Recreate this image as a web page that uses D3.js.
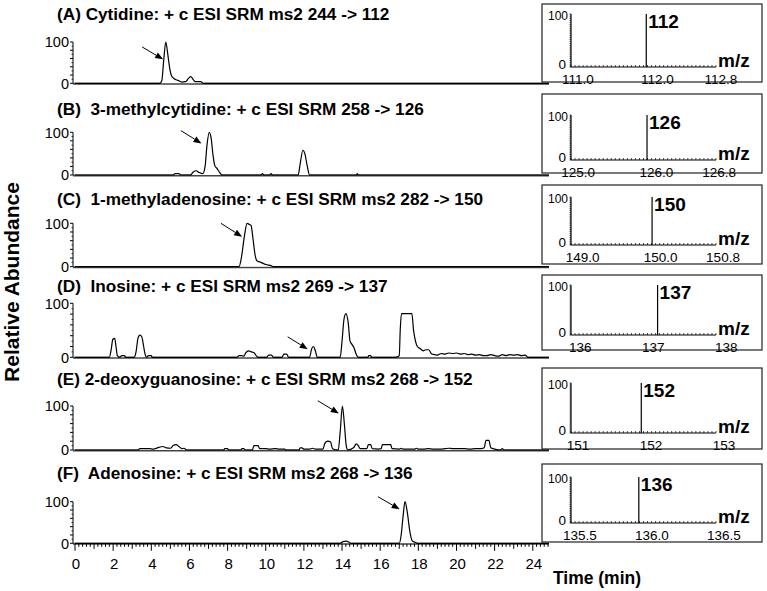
<!DOCTYPE html>
<html><head><meta charset="utf-8">
<script src="https://cdn.jsdelivr.net/npm/d3@7"></script>
<style>
html,body{margin:0;padding:0;background:#fff;}
svg{display:block;font-family:"Liberation Sans",Arial,sans-serif;}
</style></head>
<body>
<svg id="chart" width="767" height="591"></svg>
<script>
// ---------- data ----------
const panelTitles = [
  "(A) Cytidine: + c ESI SRM ms2 244 -> 112",
  "(B)  3-methylcytidine: + c ESI SRM 258 -> 126",
  "(C)  1-methyladenosine: + c ESI SRM ms2 282 -> 150",
  "(D)  Inosine: + c ESI SRM ms2 269 -> 137",
  "(E) 2-deoxyguanosine: + c ESI SRM ms2 268 -> 152",
  "(F)  Adenosine: + c ESI SRM ms2 268 -> 136"
];
const traceA = [[0,0],[4.45,0],[4.55,6],[4.65,55],[4.76,100],[4.86,72],[4.96,38],[5.06,18],[5.2,11],[5.4,7],[5.6,3],[5.8,4],[5.95,12],[6.07,16],[6.2,9],[6.3,4],[6.6,4],[6.7,0],[24.85,0]];
const traceB = [[0,0],[5.15,0],[5.25,3],[5.45,3],[5.55,0],[6.05,0],[6.2,7],[6.35,10],[6.5,6],[6.7,3],[6.82,20],[6.92,70],[7.04,100],[7.14,85],[7.24,45],[7.33,22],[7.45,15],[7.6,5],[7.7,0],[9.75,0],[9.83,3],[9.9,0],[10.2,0],[10.28,3],[10.35,0],[11.7,0],[11.8,25],[11.95,58],[12.05,50],[12.18,20],[12.3,0],[14.75,0],[14.8,3],[14.85,0],[24.85,0]];
const traceC = [[0,0],[8.6,0],[8.72,20],[8.88,70],[9.02,100],[9.12,98],[9.23,95],[9.33,65],[9.45,25],[9.55,13],[9.75,10],[10.0,5],[10.3,2],[10.4,0],[24.85,0]];
const traceD = [[0,0],[1.8,0],[1.9,15],[1.98,33],[2.08,35],[2.15,20],[2.22,3],[2.35,0],[2.45,3],[2.6,3],[2.65,0],[3.1,0],[3.2,10],[3.3,35],[3.4,41],[3.5,38],[3.6,20],[3.68,5],[3.75,0],[3.85,3],[4.0,3],[4.05,0],[8.5,0],[8.6,3],[8.75,3],[8.85,2],[8.95,8],[9.1,12],[9.25,10],[9.4,8],[9.5,3],[9.6,0],[10.05,0],[10.15,4],[10.3,4],[10.4,0],[10.85,0],[10.95,6],[11.1,6],[11.2,0],[12.3,0],[12.4,15],[12.5,20],[12.6,12],[12.7,0],[13.9,0],[14.0,30],[14.1,70],[14.2,81],[14.32,65],[14.42,30],[14.52,24],[14.62,18],[14.75,5],[14.85,0],[15.35,0],[15.4,3],[15.5,3],[15.55,0],[16.8,0],[17.0,3],[17.05,50],[17.12,81],[17.66,81],[17.75,50],[17.85,30],[17.95,20],[18.1,16],[18.25,12],[18.4,14],[18.55,14],[18.7,6],[18.85,5],[19.0,4],[19.2,7],[19.4,6],[19.6,8],[19.8,7],[20.0,8],[20.2,6],[20.4,7],[20.6,5],[20.8,6],[21.0,4],[21.2,5],[21.4,3],[21.6,3],[21.8,5],[22.0,3],[22.2,2],[22.4,5],[22.6,3],[22.8,5],[23.0,4],[23.2,5],[23.4,3],[23.6,4],[23.75,0],[24.85,0]];
const traceE = [[0,0],[3.3,0],[3.4,3],[3.9,3],[4.1,2],[4.4,6],[4.6,8],[4.8,5],[5.0,4],[5.15,10],[5.3,12],[5.45,8],[5.6,3],[5.72,4],[5.85,0],[7.8,0],[7.85,3],[8.0,3],[8.05,0],[8.7,0],[8.75,3],[8.85,3],[8.9,0],[9.3,0],[9.38,10],[9.6,10],[9.68,3],[10.0,3],[10.2,2],[10.5,3],[10.7,2],[11.0,2],[11.05,0],[11.75,0],[11.8,5],[11.9,5],[12.0,2],[12.3,2],[12.45,4],[12.6,2],[13.0,2],[13.1,15],[13.25,20],[13.4,18],[13.5,3],[13.8,0],[13.9,40],[14.02,100],[14.12,60],[14.22,10],[14.3,0],[14.6,5],[14.75,14],[14.85,10],[14.95,3],[15.3,3],[15.38,12],[15.5,12],[15.58,3],[15.9,2],[16.05,3],[16.12,12],[16.55,12],[16.62,3],[17.0,2],[17.1,4],[17.2,2],[17.8,2],[17.9,4],[18.0,2],[18.3,2],[18.5,3],[18.8,2],[19.1,2],[19.4,3],[19.6,4],[19.8,3],[20.1,3],[20.4,3],[20.7,2],[21.0,3],[21.3,3],[21.45,5],[21.55,22],[21.7,22],[21.8,5],[22.0,2],[22.3,0],[22.4,3],[22.5,0],[24.85,0]];
const traceF = [[0,0],[13.9,0],[14.05,4],[14.2,5],[14.35,3],[14.45,0],[17.0,0],[17.1,20],[17.2,65],[17.3,100],[17.42,75],[17.55,30],[17.68,6],[17.85,2],[17.95,0],[24.85,0]];
const traces = [traceA, traceB, traceC, traceD, traceE, traceF];
// arrows: [t start, intensity start, t end, intensity end]
const arrows = [[3.52,88,4.62,58],[5.55,104,6.63,74],[7.65,100,8.76,69],[11.15,38,12.2,15],[12.73,112,13.83,83],[15.88,112,17.02,82]];
const timeTicks = [0,2,4,6,8,10,12,14,16,18,20,22,24];
const timeMax = 24.85;
// insets
const insetDomains = [[110.9125,112.7375],[124.91,126.76],[148.85,150.71],[135.874,137.86],[150.905,152.89],[135.438,136.445]];
const insetTickValues = [[111.0,112.0,112.8],[125.0,126.0,126.8],[149.0,150.0,150.8],[136,137,138],[151,152,153],[135.5,136.0,136.5]];
const insetTickLabels = [["111.0","112.0","112.8"],["125.0","126.0","126.8"],["149.0","150.0","150.8"],["136","137","138"],["151","152","153"],["135.5","136.0","136.5"]];
const insetPeakMz = [111.86,125.88,149.89,137.06,151.867,135.909];
const insetPeakLabels = ["112","126","150","137","152","136"];

// ---------- layout ----------
const svg = d3.select("#chart");
const panelY = [[42,83.3],[132.3,175],[223.3,266.7],[303.3,357.3],[406,450],[501.7,543.3]]; // [y of 100, y of 0]
const titleY = [14,109,199,286,379,473];
const insetBox = [[4,14,67,82],[94,115,160,173],[185,197,245,264],[275,285,335,350],[368,383,433,449],[464,477,523,542]]; // top, y100, y0, bottom
const x = d3.scaleLinear().domain([0, timeMax]).range([75, 549]);

panelTitles.forEach((title, i) => {
  const [yTop, yBase] = panelY[i];
  const y = d3.scaleLinear().domain([0,100]).range([yBase, yTop]);
  const g = svg.append("g");
  g.append("text").attr("x",57).attr("y",titleY[i]).attr("dy","0.36em")
    .attr("font-size",17.2).attr("font-weight","bold").style("white-space","pre")
    .attr("xml:space","preserve").text(title);
  // y axis
  g.append("line").attr("x1",73).attr("x2",73).attr("y1",y(0)).attr("y2",y(100)).attr("stroke","#000").attr("stroke-width",1);
  d3.range(0,101,20).forEach(v => {
    g.append("line").attr("x1",70).attr("x2",73).attr("y1",y(v)).attr("y2",y(v)).attr("stroke","#000").attr("stroke-width",1);
  });
  d3.range(10,100,20).forEach(v => {
    g.append("line").attr("x1",71.5).attr("x2",73).attr("y1",y(v)).attr("y2",y(v)).attr("stroke","#000").attr("stroke-width",0.8);
  });
  [0,100].forEach(v => {
    g.append("text").attr("x",69).attr("y",y(v)).attr("dy","0.36em").attr("text-anchor","end")
      .attr("font-size",14.5).text(v);
  });
  // baseline
  g.append("line").attr("x1",73).attr("x2",x(timeMax)).attr("y1",y(0)+0.5).attr("y2",y(0)+0.5)
    .attr("stroke","#444").attr("stroke-width",2);
  // trace
  const line = d3.line().x(d => x(d[0])).y(d => y(d[1])).curve(d3.curveMonotoneX);
  g.append("path").attr("d", line(traces[i])).attr("fill","#fff").attr("stroke","#000").attr("stroke-width",1.2);
  // arrow
  const a = arrows[i];
  const x1 = x(a[0]), y1 = y(a[1]), x2 = x(a[2]), y2 = y(a[3]);
  const ang = Math.atan2(y2-y1, x2-x1);
  const L = 8, W = 3.2;
  const bx = x2 - L*Math.cos(ang), by = y2 - L*Math.sin(ang);
  g.append("line").attr("x1",x1).attr("y1",y1).attr("x2",bx).attr("y2",by).attr("stroke","#000").attr("stroke-width",1);
  g.append("path").attr("d", `M${x2},${y2}L${bx - W*Math.sin(ang)},${by + W*Math.cos(ang)}L${bx + W*Math.sin(ang)},${by - W*Math.cos(ang)}Z`).attr("fill","#000");

  // inset
  const [bt, b100, b0, bb] = insetBox[i];
  const ig = svg.append("g");
  ig.append("rect").attr("x",542).attr("y",bt).attr("width",220).attr("height",bb-bt)
    .attr("fill","#fff").attr("stroke","#222").attr("stroke-width",1.2);
  const mx = d3.scaleLinear().domain(insetDomains[i]).range([571, 716]);
  const my = d3.scaleLinear().domain([0,100]).range([b0, b100]);
  ig.append("line").attr("x1",571).attr("x2",571).attr("y1",my(0)).attr("y2",my(100)).attr("stroke","#000").attr("stroke-width",1.2);
  ig.append("line").attr("x1",571).attr("x2",716).attr("y1",my(0)).attr("y2",my(0)).attr("stroke","#000").attr("stroke-width",1.2);
  d3.range(0,101,4).forEach(v => {
    ig.append("line").attr("x1",569.5).attr("x2",571).attr("y1",my(v)).attr("y2",my(v)).attr("stroke","#000").attr("stroke-width",0.7);
  });
  const n = 36;
  d3.range(0,n+1).forEach(k => {
    const xx = 571 + k*(145/n);
    ig.append("line").attr("x1",xx).attr("x2",xx).attr("y1",my(0)).attr("y2",my(0)-2).attr("stroke","#000").attr("stroke-width",0.7);
  });
  ig.append("text").attr("x",568).attr("y",my(100)+2).attr("dy","0.36em").attr("text-anchor","end").attr("font-size",12).text("100");
  ig.append("text").attr("x",566).attr("y",my(0)-3).attr("dy","0.36em").attr("text-anchor","end").attr("font-size",13.5).text("0");
  insetTickValues[i].forEach((v, k) => {
    ig.append("text").attr("x",mx(v)).attr("y",my(0)+12).attr("dy","0.36em").attr("text-anchor","middle")
      .attr("font-size",13.5).text(insetTickLabels[i][k]);
  });
  ig.append("text").attr("x",718).attr("y",my(0)).attr("font-size",19).attr("font-weight","bold").text("m/z");
  const px = mx(insetPeakMz[i]);
  ig.append("line").attr("x1",px).attr("x2",px).attr("y1",my(0)).attr("y2",my(100)).attr("stroke","#000").attr("stroke-width",1.2);
  ig.append("text").attr("x",px+2).attr("y",my(100)+7).attr("dy","0.36em").attr("font-size",19).attr("font-weight","bold").text(insetPeakLabels[i]);
});

// bottom time axis on panel F
const yF = panelY[5][1] + 0.5;
const ax = svg.append("g");
d3.range(0, Math.round(timeMax*5)+1).forEach(k => {
  const t = k/5;
  const isEven = k % 10 === 0, isInt = k % 5 === 0;
  const len = isEven ? 7 : (isInt ? 5 : 3);
  ax.append("line").attr("x1",x(t)).attr("x2",x(t)).attr("y1",yF).attr("y2",yF+len).attr("stroke","#000").attr("stroke-width",1);
});
timeTicks.forEach(t => {
  ax.append("text").attr("x",x(t)+1).attr("y",564).attr("dy","0.36em").attr("text-anchor","middle").attr("font-size",15).text(t);
});
svg.append("text").attr("x",597).attr("y",578).attr("dy","0.36em").attr("text-anchor","middle")
  .attr("font-size",17.5).attr("font-weight","bold").text("Time (min)");
svg.append("text").attr("transform","translate(19,282) rotate(-90)").attr("text-anchor","middle")
  .attr("font-size",21).attr("font-weight","bold").text("Relative Abundance");
</script>
</body></html>
